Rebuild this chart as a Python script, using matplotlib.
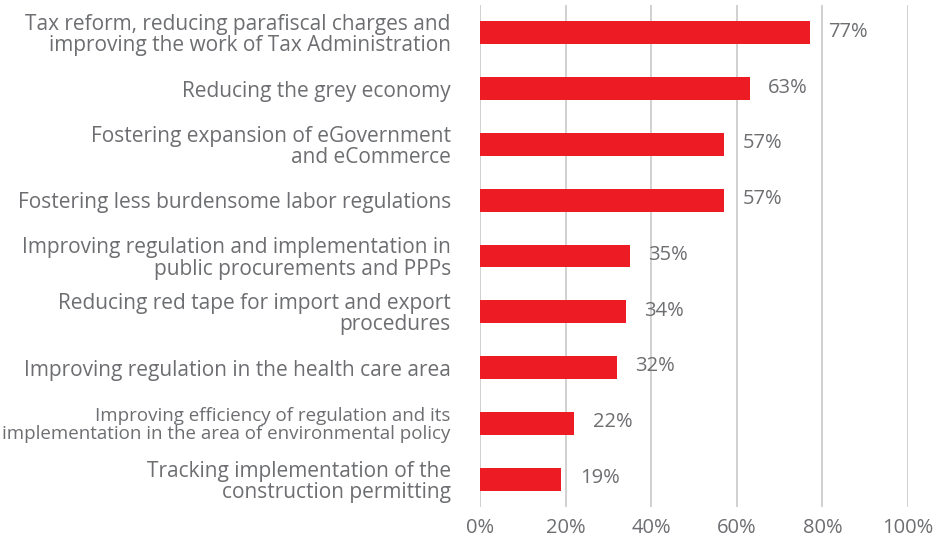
import matplotlib.pyplot as plt
from matplotlib.ticker import FuncFormatter

categories = [
    "Tax reform, reducing parafiscal charges and\nimproving the work of Tax Administration",
    "Reducing the grey economy",
    "Fostering expansion of eGovernment\nand eCommerce",
    "Fostering less burdensome labor regulations",
    "Improving regulation and implementation in\npublic procurements and PPPs",
    "Reducing red tape for import and export\nprocedures",
    "Improving regulation in the health care area",
    "Improving efficiency of regulation and its\nimplementation in the area of environmental policy",
    "Tracking implementation of the\nconstruction permitting",
]
values = [77, 63, 57, 57, 35, 34, 32, 22, 19]
ticks = [0, 20, 40, 60, 80, 100]

red = "#ED1C24"
grey = "#6D6E71"

plt.rcParams['font.family'] = ['Open Sans', 'DejaVu Sans']

fig = plt.figure(figsize=(9.44, 5.39), dpi=100)
ax = fig.add_axes([480 / 944, 32 / 539, 428 / 944, 502 / 539])

pos = list(range(len(categories)))
ax.barh(pos, values, height=0.41, color=red, zorder=3)
for p, v in zip(pos, values):
    ax.text(v + 4.3, p - 0.02, f"{v}%", va="center", ha="left",
            fontsize=14.5, color=grey)

ax.set_ylim(len(categories) - 0.5, -0.5)
ax.set_xlim(0, 100)
ax.set_yticks(pos)
labels = ax.set_yticklabels(categories, fontsize=15, color=grey,
                            linespacing=1.0, ha="right")
labels[7].set_fontsize(13.5)  # the long one is set smaller in the original
ax.set_xticks(ticks)
ax.xaxis.set_major_formatter(FuncFormatter(lambda x, _: f"{x:.0f}%"))
ax.tick_params(axis="x", labelsize=14.5, labelcolor=grey, length=0, pad=8)
ax.tick_params(axis="y", length=0, pad=21)
ax.grid(axis="x", color="#C8C8C8", linewidth=1.2, zorder=0)
for s in ax.spines.values():
    s.set_visible(False)

fig.savefig("out.png", dpi=100)
